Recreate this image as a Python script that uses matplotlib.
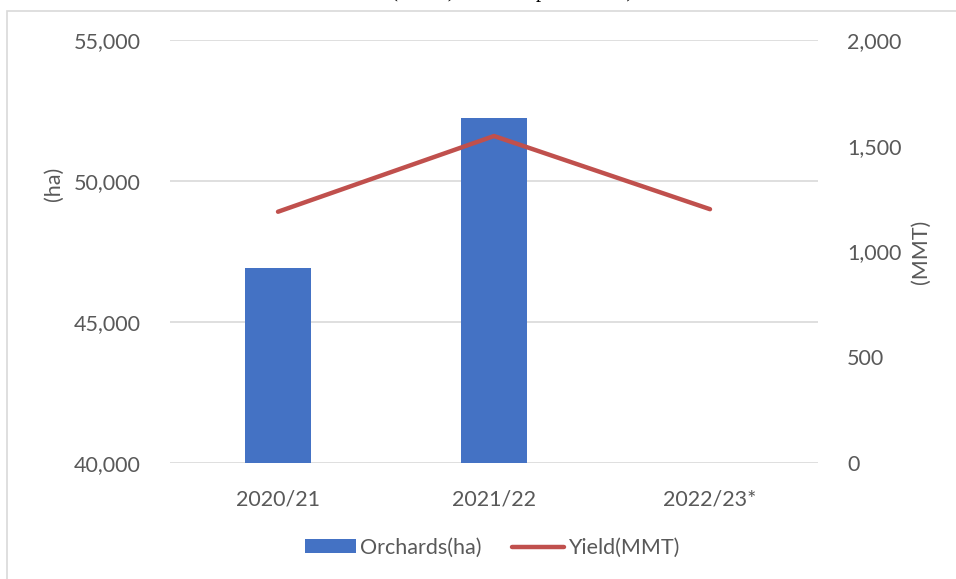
import matplotlib
matplotlib.use("Agg")
import matplotlib.pyplot as plt
import numpy as np
from matplotlib.ticker import FuncFormatter
from matplotlib.patches import Rectangle, Patch
from matplotlib.lines import Line2D

categories = ["2020/21", "2021/22", "2022/23*"]
orchards_ha = [46900, 52230, np.nan]
yield_mmt = [1188, 1546, 1200]
left_ticks = [40000, 45000, 50000, 55000]
right_ticks = [0, 500, 1000, 1500, 2000]

W, H = 956, 579
FONT = "Lato"
TXT = "#595959"
FS = 15.5

fig = plt.figure(figsize=(W / 100, H / 100), dpi=100)
fig.patch.set_facecolor("white")

# outer chart border (cropped)
fig.patches.append(Rectangle((7 / W, -0.1), 2.0, (H - 11) / H + 0.1,
                             transform=fig.transFigure, fill=False,
                             edgecolor="#D9D9D9", lw=1.2))

# partially cropped title (only its lowest part is inside the picture)
fig.text(512 / W, 1 + 2.5 / H, "(MMT) area and production)", ha="center",
         va="baseline", family="Liberation Serif", fontsize=15, color="black")

ax = fig.add_axes([170 / W, 1 - 463 / H, (818 - 170) / W, (463 - 40) / H])
x = np.arange(len(categories))
ax.bar(x, orchards_ha, width=0.31, color="#4472C4", zorder=2)
ax.set_xlim(-0.5, 2.5)
ax.set_ylim(40000, 55000)
ax.set_yticks(left_ticks)
ax.yaxis.set_major_formatter(FuncFormatter(lambda v, p: f"{v:,.0f}"))
ax.set_xticks(x)
ax.set_xticklabels(categories)
ax.grid(axis="y", color="#D9D9D9", lw=1.2, zorder=0)
for s in ax.spines.values():
    s.set_visible(False)
ax.tick_params(axis="y", length=0, pad=21, colors=TXT, labelsize=FS)
ax.tick_params(axis="x", length=0, pad=19, colors=TXT, labelsize=FS)

ax2 = ax.twinx()
ax2.plot(x, yield_mmt, color="#C0504D", lw=3.2, solid_capstyle="round",
         solid_joinstyle="round", zorder=3)
ax2.set_ylim(0, 2000)
ax2.set_yticks(right_ticks)
ax2.yaxis.set_major_formatter(FuncFormatter(lambda v, p: f"{v:,.0f}"))
for s in ax2.spines.values():
    s.set_visible(False)
ax2.tick_params(axis="y", length=0, pad=21, colors=TXT, labelsize=FS)

for lab in ax.get_xticklabels() + ax.get_yticklabels() + ax2.get_yticklabels():
    lab.set_family(FONT)

fig.text(54 / W, 1 - 184 / H, "(ha)", rotation=90, ha="center", va="center",
         family=FONT, fontsize=FS, color=TXT)
fig.text(921 / W, 1 - 252 / H, "(MMT)", rotation=90, ha="center", va="center",
         family=FONT, fontsize=FS, color=TXT)

handles = [Patch(facecolor="#4472C4", edgecolor="none"),
           Line2D([0], [0], color="#C0504D", lw=3.2, solid_capstyle="round")]
fig.legend(handles, ["Orchards(ha)", "Yield(MMT)"], loc="center",
           bbox_to_anchor=(492 / W, 1 - 548 / H), ncol=2, frameon=False,
           prop={"family": FONT, "size": FS}, labelcolor=TXT,
           handlelength=2.4, handleheight=0.62, handletextpad=0.2,
           columnspacing=1.4)

fig.savefig("out.png", dpi=100)
